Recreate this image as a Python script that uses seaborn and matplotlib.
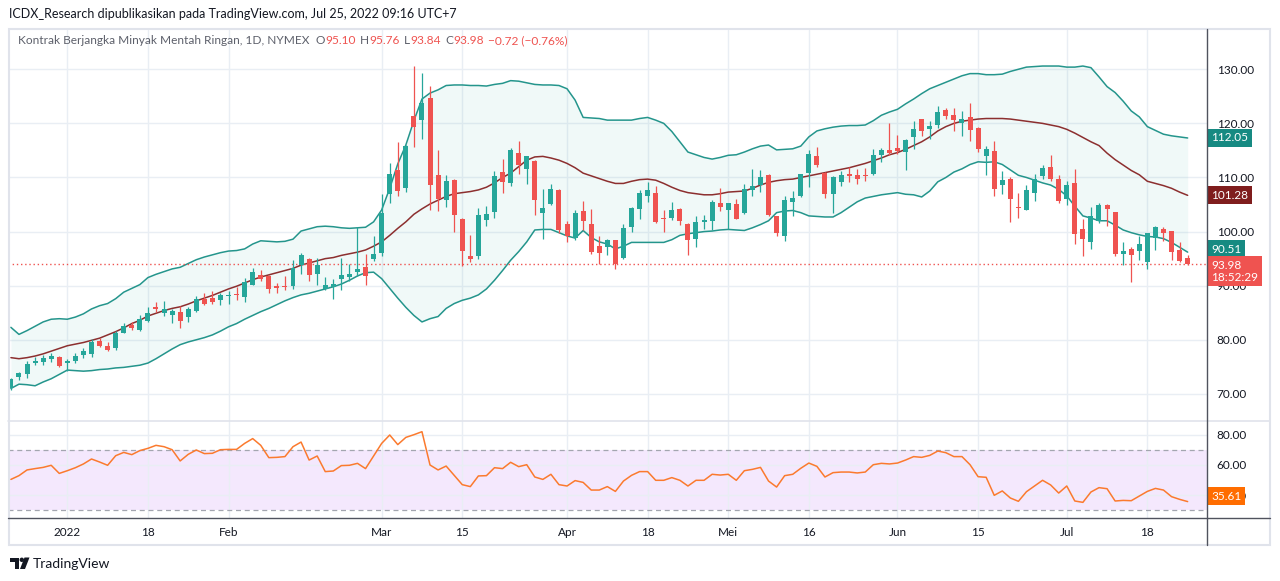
import numpy as np
import pandas as pd
import matplotlib
matplotlib.use('Agg')
import matplotlib.pyplot as plt
import seaborn as sns
from matplotlib.patches import Rectangle, Polygon, Circle

sns.set_theme(style='white')
plt.rcParams['font.family'] = ['Lato', 'DejaVu Sans']

# daily bars from Dec 22, 2021 (bar -7) to Jul 25, 2022 (bar 139); bar 0 = Jan 3, 2022
opens = [71.0, 73.1, 73.6, 75.8, 75.9, 76.5, 76.8,
         75.7, 76.1, 77.2, 77.3, 79.7, 78.9, 78.4, 81.3, 82.8, 81.9,
         83.5, 86.0, 85.0, 84.6, 85.2, 84.3, 85.3, 87.5, 87.8, 87.4,
         88.1, 88.4, 88.0, 90.2, 91.9, 91.8, 89.9, 90.0, 90.0, 93.9,
         94.9, 92.2, 89.3, 89.8, 91.2, 91.6, 92.6, 93.4, 94.9, 96.1,
         107.0, 111.4, 108.0, 121.4, 120.6, 124.6, 110.5, 105.8, 109.5, 102.3,
         95.4, 95.4, 102.1, 103.6, 111.0, 108.9, 114.5, 111.6, 113.0, 103.5,
         105.1, 107.6, 101.4, 98.9, 103.8, 101.4, 97.3, 97.2, 98.4, 95.2,
         100.9, 104.2, 106.5, 107.1, 102.5, 102.6, 104.2, 101.4, 98.7, 101.8,
         102.0, 105.3, 104.0, 105.1, 103.5, 107.6, 108.6, 110.5, 102.8, 99.1,
         105.5, 106.6, 110.9, 114.0, 110.9, 107.0, 109.2, 110.65, 110.5, 110.5,
         110.65, 114.2, 115.1, 115.4, 114.8, 117.55, 120.75, 119.0, 119.7, 122.5,
         121.55, 120.1, 121.1, 119.1, 114.0, 114.9, 108.6, 109.7, 104.6, 104.0,
         107.2, 110.2, 111.9, 109.7, 105.97, 108.9, 100.4, 98.14, 102.0, 104.9,
         103.6, 95.9, 96.7, 96.5, 94.45, 98.9, 100.5, 100.1, 96.6, 95.10]
highs = [73.0, 74.1, 76.0, 76.9, 77.1, 77.6, 77.0,
         76.5, 77.6, 78.5, 80.2, 80.4, 79.6, 81.7, 83.1, 83.3, 84.5,
         86.0, 86.9, 87.2, 85.7, 86.3, 86.0, 88.1, 88.6, 89.0, 88.6,
         89.1, 89.7, 91.4, 93.3, 92.9, 91.9, 90.5, 91.7, 94.7, 96.1,
         95.2, 95.1, 91.6, 91.2, 95.1, 94.1, 100.8, 95.8, 99.2, 106.9,
         112.7, 116.6, 116.0, 130.6, 129.4, 126.9, 115.0, 110.5, 109.7, 102.6,
         99.4, 104.3, 104.7, 111.2, 113.5, 115.4, 116.7, 114.0, 113.2, 107.8,
         108.8, 107.9, 102.0, 103.9, 105.6, 104.2, 99.1, 98.7, 98.5, 101.4,
         104.6, 107.7, 109.2, 108.4, 104.0, 105.5, 104.4, 101.5, 102.9, 103.1,
         105.8, 108.0, 105.3, 106.0, 108.8, 111.5, 111.3, 110.6, 102.9, 106.6,
         107.5, 110.7, 115.0, 115.7, 111.0, 110.3, 111.2, 112.0, 111.6, 111.7,
         115.2, 115.4, 120.0, 117.9, 117.1, 120.4, 120.9, 120.4, 123.2, 122.8,
         122.8, 122.3, 123.7, 119.4, 115.8, 116.8, 111.2, 110.0, 107.1, 108.6,
         110.6, 112.3, 114.2, 110.5, 109.4, 111.6, 102.3, 104.5, 105.2, 105.1,
         103.7, 98.0, 97.2, 99.1, 99.8, 101.1, 100.9, 100.2, 98.1, 95.76]
lows = [70.7, 72.6, 72.9, 75.4, 75.4, 75.9, 75.0,
        74.3, 75.8, 76.7, 76.9, 78.6, 77.9, 78.2, 81.2, 81.9, 81.6,
        83.2, 85.2, 84.4, 83.1, 82.1, 83.2, 85.2, 86.4, 86.6, 86.4,
        86.7, 87.3, 87.0, 90.1, 90.9, 88.7, 88.6, 89.2, 89.4, 92.2,
        90.9, 90.1, 89.2, 87.6, 89.2, 90.9, 91.7, 90.1, 94.6, 95.5,
        105.3, 106.6, 107.4, 115.7, 117.2, 103.9, 103.8, 104.6, 100.0, 93.7,
        94.3, 94.9, 101.1, 102.6, 107.2, 108.5, 110.6, 108.8, 103.0, 98.7,
        104.9, 99.7, 98.0, 98.4, 100.3, 95.9, 94.1, 95.7, 93.1, 94.9,
        100.0, 102.3, 105.5, 101.6, 100.0, 102.1, 101.2, 95.6, 97.2, 100.4,
        100.3, 103.8, 100.4, 102.3, 103.2, 106.6, 107.4, 102.8, 99.1, 98.3,
        102.8, 106.4, 108.3, 111.9, 106.3, 103.4, 108.4, 109.2, 108.8, 109.4,
        110.5, 112.9, 114.2, 114.35, 111.3, 115.3, 117.7, 117.1, 119.1, 120.8,
        118.5, 117.6, 116.8, 114.8, 110.5, 106.6, 106.95, 101.7, 102.6, 103.9,
        105.7, 109.8, 109.4, 105.35, 104.9, 97.65, 95.4, 96.8, 101.65, 101.1,
        95.55, 93.8, 90.75, 94.8, 93.1, 96.6, 98.3, 94.75, 94.3, 93.84]
closes = [72.8, 73.8, 75.6, 76.0, 76.6, 77.0, 75.2,
          76.1, 77.0, 77.9, 79.5, 78.9, 78.2, 81.2, 82.6, 82.1, 83.8,
          85.0, 85.7, 85.7, 85.4, 83.4, 85.7, 87.5, 86.6, 86.9, 88.3,
          88.3, 88.2, 90.6, 92.5, 91.2, 89.4, 89.6, 89.7, 93.3, 95.7,
          92.0, 93.8, 90.1, 90.3, 92.0, 92.2, 93.0, 91.7, 95.9, 103.5,
          110.6, 107.5, 115.8, 119.4, 123.7, 108.6, 106.0, 109.4, 103.0, 96.5,
          95.0, 103.1, 103.3, 110.2, 109.2, 115.1, 112.3, 113.9, 105.9, 104.3,
          107.8, 100.3, 99.2, 103.4, 102.0, 96.2, 96.1, 98.4, 94.1, 100.7,
          104.4, 107.1, 107.7, 101.8, 102.3, 104.0, 102.0, 98.4, 101.8, 102.1,
          105.5, 104.6, 105.2, 102.4, 107.9, 108.4, 110.0, 103.1, 99.8, 105.8,
          106.2, 110.6, 114.3, 112.3, 107.0, 110.0, 110.4, 110.3, 109.8, 110.35,
          114.1, 115.1, 114.5, 114.95, 116.9, 118.97, 118.5, 119.5, 122.1, 121.4,
          120.6, 120.9, 118.8, 115.3, 115.2, 107.9, 109.5, 106.0, 104.3, 107.7,
          109.7, 111.8, 109.7, 105.7, 108.6, 99.5, 98.6, 102.9, 104.9, 104.1,
          95.86, 96.35, 95.7, 97.7, 99.7, 100.9, 99.8, 96.3, 94.6, 93.98]

# Bollinger bands as drawn on the chart
bb_upper = [82.3, 81.0, 81.7, 82.5, 83.3, 83.8, 83.9,
            83.8, 84.2, 84.8, 85.7, 86.3, 86.7, 87.6, 88.8, 89.5, 90.2,
            91.5, 92.1, 92.6, 93.1, 93.4, 94.1, 94.8, 95.3, 95.7, 96.1,
            96.4, 96.5, 96.8, 97.7, 98.3, 98.2, 98.1, 98.2, 98.6, 100.1,
            100.5, 100.9, 101.0, 100.9, 100.7, 100.6, 100.7, 100.8, 101.8, 104.0,
            108.0, 112.5, 116.0, 120.5, 124.5, 125.6, 126.2, 127.0, 127.1, 127.1,
            127.0, 127.0, 126.9, 127.2, 127.4, 127.9, 127.8, 127.5, 127.2, 127.1,
            127.1, 127.0, 126.4, 124.3, 121.1, 121.0, 120.9, 120.6, 120.6, 120.6,
            120.6, 120.9, 121.1, 120.6, 120.0, 118.5, 116.6, 114.7, 114.2, 113.7,
            113.4, 113.7, 114.1, 114.2, 114.7, 115.3, 115.8, 116.0, 115.1, 115.2,
            115.3, 115.8, 117.5, 118.6, 119.0, 119.3, 119.5, 119.6, 119.6, 119.7,
            120.5, 121.5, 122.1, 122.6, 123.6, 124.5, 125.5, 126.4, 127.0, 127.6,
            128.2, 128.8, 129.2, 129.2, 129.0, 129.0, 129.1, 129.6, 130.0, 130.4,
            130.5, 130.6, 130.6, 130.6, 130.4, 130.4, 130.6, 130.3, 128.6, 126.8,
            125.7, 124.1, 122.3, 121.2, 119.4, 118.7, 118.0, 117.7, 117.5, 117.3]
bb_mid = [76.7, 76.5, 76.7, 77.0, 77.4, 77.9, 78.4,
          78.9, 79.2, 79.5, 79.9, 80.3, 80.9, 81.5, 82.2, 83.0, 83.6,
          84.4, 84.9, 85.4, 85.8, 86.1, 86.6, 87.2, 87.7, 88.2, 88.8,
          89.4, 89.9, 90.5, 91.1, 91.6, 92.0, 92.4, 92.8, 93.2, 93.8,
          94.2, 94.6, 95.0, 95.2, 95.6, 95.9, 96.2, 96.6, 97.3, 98.1,
          99.3, 100.6, 101.8, 103.2, 104.2, 105.1, 105.8, 106.5, 107.0, 107.2,
          107.4, 107.7, 108.2, 109.0, 110.0, 110.8, 112.0, 113.2, 113.8, 113.9,
          113.6, 113.2, 112.6, 111.8, 110.8, 110.3, 109.8, 109.3, 108.9, 108.9,
          109.3, 109.6, 109.7, 109.5, 108.9, 108.2, 107.6, 107.2, 107.0, 106.8,
          106.8, 107.0, 107.3, 107.4, 107.5, 108.0, 108.6, 109.1, 109.4, 109.6,
          109.7, 110.0, 110.3, 110.6, 110.9, 111.2, 111.5, 111.8, 112.2, 112.6,
          113.1, 113.6, 114.2, 114.6, 115.2, 115.9, 116.6, 117.5, 118.6, 119.4,
          120.0, 120.4, 120.6, 120.8, 120.9, 120.9, 120.9, 120.8, 120.6, 120.4,
          120.2, 120.0, 119.7, 119.4, 118.9, 118.2, 117.4, 116.6, 115.9, 114.5,
          113.3, 112.3, 111.3, 110.5, 109.3, 108.9, 108.5, 108.0, 107.3, 106.7]
bb_lower = [71.0, 71.8, 71.7, 71.5, 72.2, 72.8, 73.6,
            74.4, 74.3, 74.2, 74.3, 74.5, 74.6, 74.8, 74.9, 75.1, 75.3,
            75.7, 76.5, 77.4, 78.3, 79.1, 79.6, 80.0, 80.4, 80.9, 81.6,
            82.4, 83.0, 83.8, 84.5, 85.2, 85.8, 86.5, 87.2, 87.8, 88.3,
            88.6, 89.0, 89.4, 89.8, 90.3, 91.0, 91.8, 92.4, 92.5, 91.3,
            89.5, 87.7, 86.0, 84.5, 83.3, 83.9, 84.3, 85.8, 86.7, 87.3,
            87.7, 88.3, 89.4, 91.0, 92.8, 94.7, 96.3, 98.1, 100.3, 100.4,
            100.4, 99.8, 99.2, 98.8, 100.2, 98.9, 98.1, 97.7, 96.8, 97.3,
            98.0, 98.0, 98.0, 98.0, 98.0, 98.5, 99.3, 99.6, 99.8, 100.0,
            100.1, 100.3, 100.4, 100.3, 100.2, 100.7, 101.3, 102.0, 103.5, 103.8,
            103.9, 103.5, 102.9, 102.8, 102.7, 102.7, 103.5, 104.5, 105.5, 106.2,
            106.5, 106.8, 107.0, 107.2, 106.9, 106.8, 106.4, 107.5, 109.2, 110.0,
            111.0, 111.6, 112.4, 112.9, 112.8, 112.9, 112.4, 111.4, 110.4, 110.0,
            109.5, 109.0, 108.6, 107.8, 106.6, 104.7, 102.9, 102.5, 102.0, 102.0,
            101.2, 100.3, 99.8, 99.4, 99.1, 99.0, 98.7, 98.0, 97.1, 96.2]

rsi = [50.4, 52.9, 56.7, 57.6, 58.4, 59.8, 54.4,
       56.2, 58.2, 60.7, 64.0, 62.0, 59.8, 66.2, 68.4, 66.9, 69.6,
       71.1, 73.1, 72.2, 70.2, 62.7, 67.1, 70.0, 67.6, 67.8, 70.2,
       70.4, 70.4, 74.4, 77.6, 73.1, 64.9, 65.1, 65.6, 72.2, 75.3,
       63.3, 66.0, 55.6, 56.0, 59.6, 59.8, 61.1, 57.6, 66.0, 74.4,
       80.0, 73.6, 78.4, 80.2, 82.2, 60.0, 56.7, 59.3, 53.1, 46.9,
       45.6, 52.7, 52.9, 58.2, 57.6, 61.8, 58.9, 60.2, 52.0, 50.4,
       53.8, 46.9, 46.0, 49.6, 48.4, 43.3, 43.3, 45.6, 42.4, 49.3,
       53.1, 55.6, 55.6, 49.8, 49.8, 51.6, 49.8, 46.0, 49.8, 49.8,
       53.8, 53.3, 53.8, 49.8, 56.2, 57.1, 58.4, 49.3, 45.3, 52.9,
       53.8, 57.8, 61.3, 59.1, 52.0, 54.9, 55.3, 55.3, 54.7, 55.3,
       60.2, 61.1, 60.7, 61.3, 63.3, 65.6, 65.1, 66.4, 69.3, 68.2,
       65.6, 65.6, 60.2, 52.2, 51.8, 39.8, 42.7, 38.0, 35.8, 42.2,
       46.0, 49.8, 46.7, 41.3, 46.0, 36.0, 35.1, 42.0, 44.9, 44.2,
       36.0, 36.4, 36.2, 39.3, 42.4, 44.4, 43.3, 38.9, 37.1, 35.61]

tick_bars = [0, 10, 20, 39, 49, 62, 72, 82, 92, 103, 113, 124, 134]
tick_labels = ['2022', '18', 'Feb', 'Mar', '15', 'Apr', '18', 'Mei', '16', 'Jun', '15', 'Jul', '18']
price_ticks = [70, 80, 90, 100, 110, 120, 130]
rsi_ticks = [40, 60, 80]

df = pd.DataFrame({'bar': np.arange(-7, 140), 'open': opens, 'high': highs, 'low': lows,
                   'close': closes, 'upper': bb_upper, 'mid': bb_mid, 'lower': bb_lower, 'rsi': rsi})

GREEN = '#26a69a'
RED = '#ef5350'
BAND = '#24958c'
BASIS = '#8c2f2f'
ORANGE = '#fb7a2e'
GRID = '#e9eef4'
TXT = '#131722'
GREY = '#5d606b'

W, H = 1280, 581
fig = plt.figure(figsize=(12.8, 5.81), dpi=100)


def px_box(x0, y0, x1, y1):
    return [x0 / W, 1 - y1 / H, (x1 - x0) / W, (y1 - y0) / H]


ax = fig.add_axes(px_box(8, 30, 1207, 421))
ax_rsi = fig.add_axes(px_box(8, 421, 1207, 518), sharex=ax)

# bollinger bands
ax.fill_between(df['bar'], df['lower'], df['upper'], color=GREEN, alpha=0.065, lw=0, zorder=1)
sns.lineplot(x=df['bar'], y=df['upper'], ax=ax, color=BAND, lw=1.1, estimator=None, zorder=2)
sns.lineplot(x=df['bar'], y=df['lower'], ax=ax, color=BAND, lw=1.1, estimator=None, zorder=2)
sns.lineplot(x=df['bar'], y=df['mid'], ax=ax, color=BASIS, lw=1.1, estimator=None, zorder=2)

# candles
up = df['close'] >= df['open']
col = np.where(up, GREEN, RED)
ax.vlines(df['bar'], df['low'], df['high'], colors=col, lw=0.9, zorder=3)
body_lo = df[['open', 'close']].min(axis=1)
body_h = (df['close'] - df['open']).abs().clip(lower=0.2)
ax.bar(df['bar'], body_h, bottom=body_lo, width=0.62, color=col, lw=0, zorder=4)

ax.axhline(closes[-1], color=RED, lw=1, ls=(0, (1, 2)), zorder=2)

ax.set_xlim(-7.36, 141.4)
ax.set_ylim(64.99, 137.26)
ax.set_yticks(price_ticks)
ax.set_yticklabels([f'{v:.2f}' for v in price_ticks])
ax.yaxis.tick_right()
ax.tick_params(axis='y', length=0, pad=7, labelsize=8.5, labelcolor=TXT)
ax.tick_params(axis='x', length=0, labelbottom=False)
ax.grid(True, color=GRID, lw=1)
ax.set_axisbelow(True)
ax.set_xlabel('')
ax.set_ylabel('')
for s in ax.spines.values():
    s.set_visible(False)

# RSI panel
ax_rsi.axhspan(30, 70, color='#f4e8fd', lw=0, zorder=0.2)
for lvl in (70, 30):
    ax_rsi.axhline(lvl, color='#a3a6af', lw=0.9, ls=(0, (4, 3)), zorder=1)
sns.lineplot(x=df['bar'], y=df['rsi'], ax=ax_rsi, color=ORANGE, lw=1.1, estimator=None, zorder=3)
ax_rsi.set_ylim(24.67, 89.33)
ax_rsi.set_yticks(rsi_ticks)
ax_rsi.set_yticklabels([f'{v:.2f}' for v in rsi_ticks])
ax_rsi.yaxis.tick_right()
ax_rsi.set_xticks(tick_bars)
ax_rsi.set_xticklabels(tick_labels)
ax_rsi.tick_params(axis='y', length=0, pad=7, labelsize=8.5, labelcolor=TXT)
ax_rsi.tick_params(axis='x', length=0, pad=6.5, labelsize=8.5, labelcolor=TXT)
ax_rsi.grid(True, color=GRID, lw=1)
ax_rsi.set_axisbelow(True)
ax_rsi.set_xlabel('')
ax_rsi.set_ylabel('')
for s in ax_rsi.spines.values():
    s.set_visible(False)
ax_rsi.set_xlim(-7.36, 141.4)


def value_tag(axis, y, text, fc, dy=0):
    axis.annotate(text, xy=(1, y), xycoords=('axes fraction', 'data'),
                  xytext=(3, dy), textcoords='offset points', ha='left', va='center',
                  color='white', fontsize=8.5, linespacing=1.1, annotation_clip=False,
                  bbox=dict(boxstyle='square,pad=0.3', fc=fc, ec='none'), zorder=20)


value_tag(ax, bb_upper[-1], '112.05', '#168a82')
value_tag(ax, bb_mid[-1], '101.28', '#7f1d1d')
value_tag(ax, bb_lower[-1], '90.51', '#168a82', dy=2)
value_tag(ax, closes[-1], '93.98\n18:52:29', RED, dy=-5)
value_tag(ax_rsi, rsi[-1], '35.61', '#ff6d00', dy=4)

# overlay for frame, header and logo (pixel coordinates)
ov = fig.add_axes([0, 0, 1, 1], zorder=5)
ov.set_xlim(0, W)
ov.set_ylim(H, 0)
ov.axis('off')
ov.patch.set_alpha(0)

ov.add_patch(Rectangle((8.5, 28.5), 1261, 516.5, fill=False, ec='#e0e3eb', lw=1.5))
ov.plot([8, 1270], [421, 421], color='#e0e3eb', lw=1.2)
ov.plot([8, 1270], [518, 518], color='#50535e', lw=1)
ov.plot([1207, 1207], [28.5, 545], color='#50535e', lw=1)

ov.text(9, 14, 'ICDX_Research dipublikasikan pada TradingView.com, Jul 25, 2022 09:16 UTC+7',
        ha='left', va='center', fontsize=9, color=TXT)

# legend line: gaps in pixels
pieces = [('Kontrak Berjangka Minyak Mentah Ringan, 1D, NYMEX', GREY, 0),
          ('O', GREY, 6), ('95.10', RED, 0.5), ('H', GREY, 4), ('95.76', RED, 0.5),
          ('L', GREY, 4), ('93.84', RED, 0.5), ('C', GREY, 4), ('93.98', RED, 0.5),
          ('\u22120.72 (\u22120.76%)', RED, 4)]
prev = None
for txt, c, gap in pieces:
    if prev is None:
        prev = ov.text(18, 41, txt, ha='left', va='center', fontsize=8.6, color=c)
    else:
        prev = ov.annotate(txt, xy=(1, 0.5), xycoords=prev, xytext=(gap * 0.72, 0),
                           textcoords='offset points', ha='left', va='center',
                           fontsize=8.6, color=c)

# TradingView mark + name
ov.add_patch(Polygon([(10, 557.5), (19, 557.5), (19, 569), (14.5, 569), (14.5, 562), (10, 562)],
                     closed=True, fc=TXT, ec='none'))
ov.add_patch(Circle((21.8, 559.8), 2.2, fc=TXT, ec='none'))
ov.add_patch(Polygon([(24.5, 557.5), (29.5, 557.5), (25, 569), (20, 569)], closed=True, fc=TXT, ec='none'))
ov.text(33, 563.5, 'TradingView', ha='left', va='center', fontsize=10, color=TXT)

fig.savefig('out.png', dpi=100)
